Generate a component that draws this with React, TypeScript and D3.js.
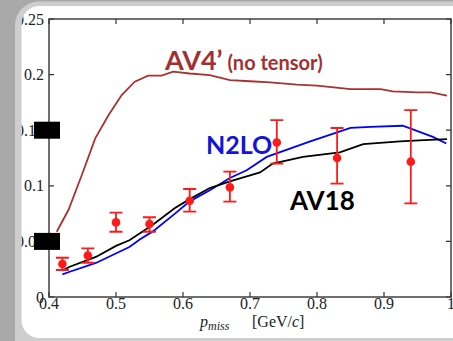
import React, { useEffect, useRef } from 'react';
import * as d3 from 'd3';

// AV4' (no tensor) curve
const av4Momentum = [0.4115, 0.429, 0.449, 0.469, 0.489, 0.5085, 0.528, 0.548, 0.568, 0.5855, 0.61, 0.64, 0.67, 0.7, 0.73, 0.77, 0.8, 0.85, 0.895, 0.913, 0.95, 0.97, 0.994];
const av4Values = [0.0587, 0.0782, 0.1097, 0.1427, 0.1636, 0.1816, 0.1936, 0.199, 0.199, 0.2026, 0.201, 0.1996, 0.195, 0.194, 0.193, 0.191, 0.19, 0.187, 0.187, 0.185, 0.184, 0.184, 0.181];

// AV18 curve
const av18Momentum = [0.42, 0.43, 0.47, 0.5, 0.52, 0.555, 0.588, 0.61, 0.64, 0.67, 0.715, 0.734, 0.779, 0.834, 0.869, 0.924, 0.96, 0.994];
const av18Values = [0.0237, 0.027, 0.036, 0.046, 0.051, 0.065, 0.08, 0.088, 0.098, 0.104, 0.112, 0.12, 0.126, 0.13, 0.1375, 0.14, 0.141, 0.142];

// N2LO curve
const n2loMomentum = [0.42, 0.43, 0.47, 0.52, 0.536, 0.555, 0.588, 0.61, 0.64, 0.67, 0.695, 0.725, 0.79, 0.85, 0.88, 0.928, 0.973, 0.993];
const n2loValues = [0.0204, 0.0225, 0.0306, 0.045, 0.052, 0.059, 0.075, 0.086, 0.096, 0.107, 0.114, 0.126, 0.14, 0.152, 0.153, 0.154, 0.144, 0.138];

// measured points with error bars
const dataMomentum = [0.42, 0.458, 0.5, 0.55, 0.61, 0.67, 0.74, 0.83, 0.94];
const dataValues = [0.0297, 0.0372, 0.0671, 0.0656, 0.0866, 0.0986, 0.139, 0.125, 0.1217];
const dataHigh = [0.0353, 0.0438, 0.0758, 0.0717, 0.0971, 0.1127, 0.159, 0.152, 0.168];
const dataLow = [0.0243, 0.0308, 0.0587, 0.0587, 0.0767, 0.0857, 0.12, 0.102, 0.0842];

const xTicks = [0.4, 0.5, 0.6, 0.7, 0.8, 0.9, 1.0];
const xTickLabels = ['0.4', '0.5', '0.6', '0.7', '0.8', '0.9', '1'];
const yTicks = [0, 0.05, 0.1, 0.15, 0.2, 0.25];
const yTickLabels = ['0', '0.05', '0.1', '0.15', '0.2', '0.25'];
const hiddenTicks = [0.05, 0.15];

const W = 453;
const H = 341;

const App: React.FC = () => {
  const svgRef = useRef<SVGSVGElement>(null);

  useEffect(() => {
    if (!svgRef.current) return;
    const svg = d3.select(svgRef.current);
    svg.selectAll('*').remove();

    // slide frame
    svg.append('rect').attr('width', W).attr('height', H).attr('fill', '#a9a9a9');
    svg.append('rect')
      .attr('x', 15).attr('y', 1.5).attr('width', 520).attr('height', 360)
      .attr('rx', 24).attr('fill', '#cecece');
    svg.append('rect')
      .attr('x', 21.5).attr('y', 6).attr('width', 520).attr('height', 332)
      .attr('rx', 18).attr('fill', '#ffffff');

    svg.append('defs').append('clipPath').attr('id', 'panel')
      .append('rect')
      .attr('x', 21.5).attr('y', 6).attr('width', 520).attr('height', 332).attr('rx', 18);

    const g = svg.append('g').attr('clip-path', 'url(#panel)');

    const x = d3.scaleLinear().domain([0.4, 1.0]).range([49, 451]);
    const y = d3.scaleLinear().domain([0, 0.25]).range([297, 19]);

    const line = d3.line<[number, number]>()
      .x(d => x(d[0]))
      .y(d => y(d[1]));

    const zip = (a: number[], b: number[]) => a.map((v, i) => [v, b[i]] as [number, number]);

    g.append('path').datum(zip(av4Momentum, av4Values))
      .attr('d', line).attr('fill', 'none')
      .attr('stroke', '#a83232').attr('stroke-width', 1.8);
    g.append('path').datum(zip(n2loMomentum, n2loValues))
      .attr('d', line).attr('fill', 'none')
      .attr('stroke', '#0000ff').attr('stroke-width', 1.8);
    g.append('path').datum(zip(av18Momentum, av18Values))
      .attr('d', line).attr('fill', 'none')
      .attr('stroke', '#000000').attr('stroke-width', 1.8);

    // error bars
    const red = '#ff1a1a';
    dataMomentum.forEach((m, i) => {
      const cx = x(m);
      g.append('line')
        .attr('x1', cx).attr('x2', cx)
        .attr('y1', y(dataHigh[i])).attr('y2', y(dataLow[i]))
        .attr('stroke', red).attr('stroke-width', 1.8);
      [dataHigh[i], dataLow[i]].forEach(v => {
        g.append('line')
          .attr('x1', cx - 6.5).attr('x2', cx + 6.5)
          .attr('y1', y(v)).attr('y2', y(v))
          .attr('stroke', red).attr('stroke-width', 1.8);
      });
      g.append('circle')
        .attr('cx', cx).attr('cy', y(dataValues[i]))
        .attr('r', 4.3).attr('fill', red);
    });

    // frame and ticks
    const axisColor = '#333';
    g.append('rect')
      .attr('x', x(0.4)).attr('y', y(0.25))
      .attr('width', x(1.0) - x(0.4)).attr('height', y(0) - y(0.25))
      .attr('fill', 'none').attr('stroke', axisColor).attr('stroke-width', 1.4);

    xTicks.forEach((t, i) => {
      g.append('line')
        .attr('x1', x(t)).attr('x2', x(t))
        .attr('y1', y(0)).attr('y2', y(0) - 5)
        .attr('stroke', axisColor).attr('stroke-width', 1.2);
      g.append('line')
        .attr('x1', x(t)).attr('x2', x(t))
        .attr('y1', y(0.25)).attr('y2', y(0.25) + 5)
        .attr('stroke', axisColor).attr('stroke-width', 1.2);
      g.append('text')
        .attr('x', x(t)).attr('y', 309)
        .attr('text-anchor', 'middle')
        .attr('font-family', '"Liberation Serif", serif')
        .attr('font-size', 16).attr('fill', '#222')
        .text(xTickLabels[i]);
    });

    yTicks.forEach((t, i) => {
      g.append('line')
        .attr('x1', x(0.4)).attr('x2', x(0.4) + 5)
        .attr('y1', y(t)).attr('y2', y(t))
        .attr('stroke', axisColor).attr('stroke-width', 1.2);
      g.append('line')
        .attr('x1', x(1.0)).attr('x2', x(1.0) - 5)
        .attr('y1', y(t)).attr('y2', y(t))
        .attr('stroke', axisColor).attr('stroke-width', 1.2);
      g.append('text')
        .attr('x', 44).attr('y', y(t) + 5.5)
        .attr('text-anchor', 'end')
        .attr('font-family', '"Liberation Serif", serif')
        .attr('font-size', 16).attr('fill', '#222')
        .text(yTickLabels[i]);
    });

    // black boxes covering two tick labels
    hiddenTicks.forEach(t => {
      g.append('rect')
        .attr('x', 34).attr('y', y(t) - 8.5)
        .attr('width', 26).attr('height', 17)
        .attr('fill', '#000');
    });

    // x axis label
    const xl = g.append('text')
      .attr('x', 200).attr('y', 327)
      .attr('font-family', '"Liberation Serif", serif')
      .attr('font-size', 16).attr('fill', '#222');
    xl.append('tspan').attr('font-style', 'italic').text('p');
    xl.append('tspan').attr('font-style', 'italic').attr('font-size', 12).attr('dy', 3).text('miss');
    xl.append('tspan').attr('x', 252).attr('dy', -3).text('[GeV/');
    xl.append('tspan').attr('font-style', 'italic').text('c');
    xl.append('tspan').text(']');

    // curve annotations
    const ann = g.append('text')
      .attr('x', 165).attr('y', 69.5)
      .attr('font-family', 'Lato, sans-serif').attr('font-weight', 'bold')
      .attr('fill', '#a3302e');
    ann.append('tspan').attr('font-size', 27).text('AV4’');
    ann.append('tspan').attr('font-size', 20).text(' (no tensor)');

    g.append('text')
      .attr('x', 206).attr('y', 153.5)
      .attr('font-family', 'Lato, sans-serif').attr('font-weight', 'bold')
      .attr('font-size', 25).attr('fill', '#1414d8')
      .text('N2LO');

    g.append('text')
      .attr('x', 290).attr('y', 210)
      .attr('font-family', 'Lato, sans-serif').attr('font-weight', 'bold')
      .attr('font-size', 26).attr('fill', '#000')
      .text('AV18');
  }, []);

  return (
    <svg
      ref={svgRef}
      width={W}
      height={H}
      style={{ position: 'absolute', left: 0, top: 0, display: 'block' }}
    />
  );
};

export default App;
